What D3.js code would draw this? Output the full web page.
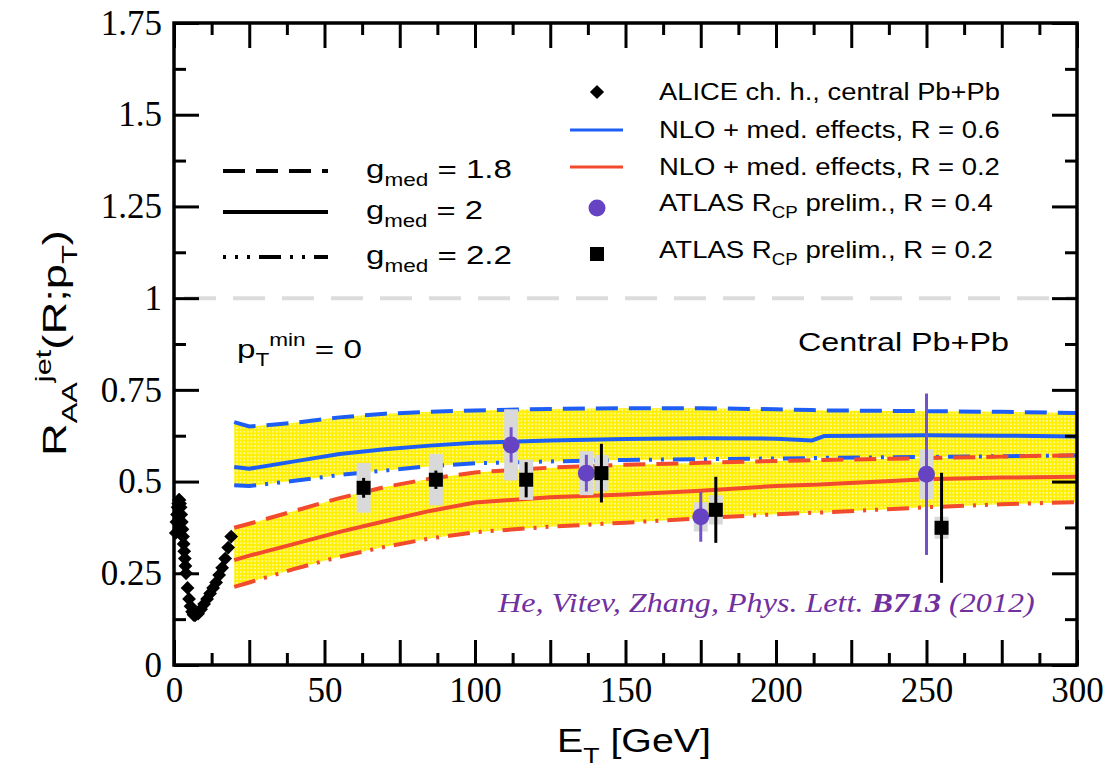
<!DOCTYPE html>
<html>
<head>
<meta charset="utf-8">
<script src="https://cdn.jsdelivr.net/npm/d3@7"></script>
<style>
body { margin: 0; background: #fff; }
.tick text { font-family: "Liberation Serif", serif; font-size: 35px; fill: #000; }
</style>
</head>
<body>
<div id="chart-area"></div>
<script>
// ---- data ----
var xTicks = [0, 50, 100, 150, 200, 250, 300];
var yTicks = [0, 0.25, 0.5, 0.75, 1, 1.25, 1.5, 1.75];

// theory curves (E_T grid shared by all six curves)
var thE = [20, 25, 40, 55, 70, 85, 100, 125, 150, 175, 200, 212, 216, 250, 275, 300];
var blueG18 = [0.662, 0.650, 0.660, 0.675, 0.685, 0.690, 0.694, 0.698, 0.700, 0.700, 0.697, 0.695, 0.694, 0.692, 0.690, 0.687];
var blueG20 = [0.540, 0.535, 0.555, 0.575, 0.588, 0.598, 0.606, 0.612, 0.616, 0.618, 0.617, 0.612, 0.624, 0.626, 0.625, 0.623];
var blueG22 = [0.490, 0.488, 0.502, 0.518, 0.530, 0.542, 0.550, 0.555, 0.559, 0.561, 0.563, 0.564, 0.565, 0.567, 0.569, 0.571];
var redG18  = [0.374, 0.385, 0.420, 0.455, 0.485, 0.508, 0.525, 0.538, 0.546, 0.551, 0.556, 0.558, 0.559, 0.564, 0.568, 0.572];
var redG20  = [0.286, 0.298, 0.330, 0.363, 0.392, 0.420, 0.443, 0.457, 0.465, 0.475, 0.488, 0.491, 0.493, 0.506, 0.511, 0.513];
var redG22  = [0.213, 0.225, 0.262, 0.295, 0.322, 0.345, 0.362, 0.377, 0.388, 0.400, 0.411, 0.415, 0.416, 0.430, 0.438, 0.444];

// ALICE charged hadrons
var aliceE = [0.6, 0.8, 1.0, 1.2, 1.4, 1.6, 1.8, 2.0, 2.2, 2.4, 2.6, 2.8, 3.0, 3.2, 3.4, 3.6, 3.8, 4.0, 4.5, 5.0, 5.5, 6.0, 6.5, 7.0, 8.0, 9.0, 10, 11, 12, 13, 14, 15, 16, 17, 18, 19];
var aliceR = [0.36, 0.39, 0.41, 0.43, 0.44, 0.45, 0.45, 0.44, 0.43, 0.41, 0.39, 0.37, 0.35, 0.33, 0.31, 0.29, 0.27, 0.25, 0.21, 0.18, 0.16, 0.145, 0.137, 0.135, 0.14, 0.152, 0.166, 0.18, 0.195, 0.21, 0.225, 0.245, 0.265, 0.29, 0.32, 0.35];

// ATLAS R_CP, R = 0.2 (squares)
var sqE    = [63, 87, 117, 142, 180, 255];
var sqR    = [0.483, 0.505, 0.505, 0.523, 0.423, 0.374];
var sqStat = [0.027, 0.025, 0.048, 0.080, 0.090, 0.150];
var sqSyst = [0.068, 0.070, 0.055, 0.050, 0.040, 0.030];

// ATLAS R_CP, R = 0.4 (circles)
var ciE    = [112, 137, 175, 250];
var ciR    = [0.600, 0.523, 0.404, 0.520];
var ciStat = [0.048, 0.050, 0.068, 0.220];
var ciSyst = [0.097, 0.060, 0.040, 0.068];

// ---- layout ----
var margin = { left: 174, right: 35, top: 23, bottom: 104 };
var width = 1112 - margin.left - margin.right,
    height = 769 - margin.top - margin.bottom;

var BLUE = "#1f5ef5", RED = "#f24a2c", PURPLE = "#6643c2", GREY = "#d9d9d9";
var DASH = "22,11", DASHDOT = "22,9,3,9,3,9";

var svg = d3.select("#chart-area")
    .append("svg")
        .attr("width", 1112)
        .attr("height", 769);

var defs = svg.append("defs");
var pat = defs.append("pattern")
    .attr("id", "dots")
    .attr("width", 3.6)
    .attr("height", 3.6)
    .attr("patternUnits", "userSpaceOnUse");
pat.append("rect").attr("width", 3.6).attr("height", 3.6).attr("fill", "#fff000");
pat.append("circle").attr("cx", 1.8).attr("cy", 1.8).attr("r", 0.85).attr("fill", "#fffbe0");

var g = svg.append("g")
    .attr("transform", "translate(" + margin.left + ", " + margin.top + ")");

var x = d3.scaleLinear().domain([0, 300]).range([0, width]);
var y = d3.scaleLinear().domain([0, 1.75]).range([height, 0]);

// ---- bands ----
function band(lo, hi) {
    return d3.area()
        .x(function(d, i) { return x(thE[i]); })
        .y0(function(d, i) { return y(lo[i]); })
        .y1(function(d, i) { return y(hi[i]); })(thE);
}
g.append("path").attr("d", band(blueG22, blueG18)).attr("fill", "url(#dots)");
g.append("path").attr("d", band(redG22, redG18)).attr("fill", "url(#dots)");

// reference line at 1
g.append("line")
    .attr("x1", x(0)).attr("x2", x(300))
    .attr("y1", y(1)).attr("y2", y(1))
    .attr("stroke", "#dcdcdc")
    .attr("stroke-width", 4)
    .attr("stroke-dasharray", "32,17")
    .attr("stroke-dashoffset", -10);

// ---- theory lines ----
var line = d3.line()
    .x(function(d) { return x(d[0]); })
    .y(function(d) { return y(d[1]); });

var curves = [
    { v: blueG18, c: BLUE, dash: DASH },
    { v: blueG20, c: BLUE, dash: null },
    { v: blueG22, c: BLUE, dash: DASHDOT },
    { v: redG18,  c: RED,  dash: DASH },
    { v: redG20,  c: RED,  dash: null },
    { v: redG22,  c: RED,  dash: DASHDOT }
];
curves.forEach(function(cv) {
    g.append("path")
        .attr("d", line(d3.zip(thE, cv.v)))
        .attr("fill", "none")
        .attr("stroke", cv.c)
        .attr("stroke-width", 4)
        .attr("stroke-dasharray", cv.dash);
});

// ---- ALICE diamonds ----
var diamond = d3.symbol().type(d3.symbolSquare).size(95);
g.selectAll(".alice")
    .data(d3.zip(aliceE, aliceR))
    .enter().append("path")
        .attr("class", "alice")
        .attr("d", diamond)
        .attr("transform", function(d) { return "translate(" + x(d[0]) + "," + y(d[1]) + ") rotate(45)"; })
        .attr("fill", "#000");

// ---- ATLAS points ----
function sysBoxes(E, R, S) {
    g.selectAll(null)
        .data(d3.range(E.length))
        .enter().append("rect")
            .attr("x", function(i) { return x(E[i]) - 7; })
            .attr("width", 14)
            .attr("y", function(i) { return y(R[i] + S[i]); })
            .attr("height", function(i) { return y(R[i] - S[i]) - y(R[i] + S[i]); })
            .attr("fill", GREY);
}
function statBars(E, R, S, col) {
    g.selectAll(null)
        .data(d3.range(E.length))
        .enter().append("line")
            .attr("x1", function(i) { return x(E[i]); })
            .attr("x2", function(i) { return x(E[i]); })
            .attr("y1", function(i) { return y(R[i] + S[i]); })
            .attr("y2", function(i) { return y(R[i] - S[i]); })
            .attr("stroke", col)
            .attr("stroke-width", 3);
}
sysBoxes(ciE, ciR, ciSyst);
sysBoxes(sqE, sqR, sqSyst);
statBars(ciE, ciR, ciStat, "#7350cc");
statBars(sqE, sqR, sqStat, "#000");

g.selectAll(".circ")
    .data(d3.range(ciE.length))
    .enter().append("circle")
        .attr("class", "circ")
        .attr("cx", function(i) { return x(ciE[i]); })
        .attr("cy", function(i) { return y(ciR[i]); })
        .attr("r", 8.5)
        .attr("fill", PURPLE);

g.selectAll(".sq")
    .data(d3.range(sqE.length))
    .enter().append("rect")
        .attr("class", "sq")
        .attr("x", function(i) { return x(sqE[i]) - 7; })
        .attr("y", function(i) { return y(sqR[i]) - 7; })
        .attr("width", 14)
        .attr("height", 14)
        .attr("fill", "#000");

// ---- axes (ticks inward) ----
var xMajor = d3.range(0, 301, 25), xMinor = d3.range(12.5, 300, 25);
var yMajor = d3.range(0, 1.76, 0.25), yMinor = d3.range(0.125, 1.75, 0.25);

function axis(gen, scale, vals, len, labels) {
    return gen(scale).tickValues(vals).tickSize(-len).tickPadding(labels ? 12 : 0)
        .tickFormat(function(d) { return labels && labels.indexOf(d) >= 0 ? d : ""; });
}
function drawAxis(a, tr) {
    var ag = g.append("g").attr("transform", tr).call(a);
    ag.select(".domain").remove();
    ag.selectAll("line").attr("stroke", "#000").attr("stroke-width", 3);
    return ag;
}
drawAxis(axis(d3.axisBottom, x, xMajor, 25, xTicks), "translate(0," + height + ")");
drawAxis(axis(d3.axisBottom, x, xMinor, 12), "translate(0," + height + ")");
drawAxis(axis(d3.axisTop, x, xMajor, 25), "translate(0,0)");
drawAxis(axis(d3.axisTop, x, xMinor, 12), "translate(0,0)");
drawAxis(axis(d3.axisLeft, y, yMajor, 25, yTicks), "translate(0,0)");
drawAxis(axis(d3.axisLeft, y, yMinor, 12), "translate(0,0)");
drawAxis(axis(d3.axisRight, y, yMajor, 25), "translate(" + width + ",0)");
drawAxis(axis(d3.axisRight, y, yMinor, 12), "translate(" + width + ",0)");

g.append("rect")
    .attr("width", width).attr("height", height)
    .attr("fill", "none")
    .attr("stroke", "#000")
    .attr("stroke-width", 3.5);

// ---- text helper: draw at origin, stretch to a target width ----
function label(parent, parts, size, tx, ty, w, opts) {
    opts = opts || {};
    var t = parent.append("text")
        .style("font-family", opts.family || "'Liberation Sans', Arial, sans-serif")
        .style("font-style", opts.italic ? "italic" : "normal")
        .attr("font-size", size)
        .attr("fill", opts.fill || "#000");
    var base = 0;
    parts.forEach(function(p) {
        var s = typeof p === "string" ? { t: p } : p;
        var dy = 0, fs = size;
        if (s.sub) { fs = size * 0.68; dy = size * 0.32; }
        if (s.sup) { fs = size * 0.68; dy = -size * 0.45; }
        t.append("tspan")
            .attr("dy", dy - base)
            .attr("font-size", fs)
            .attr("font-weight", s.bold ? "bold" : null)
            .text(s.t);
        base = dy;
    });
    var bw = t.node().getComputedTextLength();
    t.attr("transform", "translate(" + tx + "," + ty + ")" + (opts.rot ? " rotate(" + opts.rot + ")" : "") +
        " scale(" + (w / bw) + ",1)" + (opts.middle ? " translate(" + (-bw / 2) + ",0)" : ""));
    return t;
}

// axis titles
label(svg, ["E", { t: "T", sub: 1 }, " [GeV]"], 33, 634, 752, 154, { middle: 1 });
label(svg, ["R", { t: "AA", sub: 1 }, { t: "jet", sup: 1 }, "(R;p", { t: "T", sub: 1 }, ")"], 33, 66, 343, 226, { rot: -90, middle: 1 });

// right legend
var legX = 659;
var legRows = [
    { y: 100, text: ["ALICE ch. h., central Pb+Pb"], w: 341 },
    { y: 138, text: ["NLO + med. effects, R = 0.6"], w: 341 },
    { y: 175, text: ["NLO + med. effects, R = 0.2"], w: 341 },
    { y: 211, text: ["ATLAS R", { t: "CP", sub: 1 }, " prelim., R = 0.4"], w: 334 },
    { y: 258, text: ["ATLAS R", { t: "CP", sub: 1 }, " prelim., R = 0.2"], w: 334 }
];
legRows.forEach(function(r) { label(svg, r.text, 23, legX, r.y, r.w); });

svg.append("path").attr("d", d3.symbol().type(d3.symbolSquare).size(100))
    .attr("transform", "translate(597,92) rotate(45)");
svg.append("line").attr("x1", 570).attr("x2", 623).attr("y1", 130).attr("y2", 130)
    .attr("stroke", BLUE).attr("stroke-width", 3);
svg.append("line").attr("x1", 570).attr("x2", 623).attr("y1", 167).attr("y2", 167)
    .attr("stroke", RED).attr("stroke-width", 3);
svg.append("circle").attr("cx", 597).attr("cy", 208).attr("r", 8.5).attr("fill", PURPLE);
svg.append("rect").attr("x", 590).attr("y", 247).attr("width", 14).attr("height", 14);

// g_med legend
var gRows = [
    { y: 171, dash: DASH, text: " = 1.8", w: 146, off: 0 },
    { y: 212, dash: null, text: " = 2",   w: 117, off: 0 },
    { y: 257, dash: DASHDOT, text: " = 2.2", w: 146, off: 19 }
];
gRows.forEach(function(r) {
    svg.append("line")
        .attr("x1", 223).attr("x2", 328)
        .attr("y1", r.y).attr("y2", r.y)
        .attr("stroke", "#000").attr("stroke-width", 4)
        .attr("stroke-dasharray", r.dash)
        .attr("stroke-dashoffset", r.off);
    label(svg, ["g", { t: "med", sub: 1 }, r.text], 26, 366, r.y + 7, r.w);
});

// annotations
label(svg, ["p", { t: "T", sub: 1 }, { t: "min", sup: 1 }, " = 0"], 26, 237, 358, 125);
label(svg, ["Central Pb+Pb"], 26, 798, 351, 211);
label(svg, ["He, Vitev, Zhang, Phys. Lett. ", { t: "B713", bold: 1 }, " (2012)"], 28, 498, 612, 537,
    { family: "'Liberation Serif', serif", italic: 1, fill: "#7030a0" });
</script>
</body>
</html>
